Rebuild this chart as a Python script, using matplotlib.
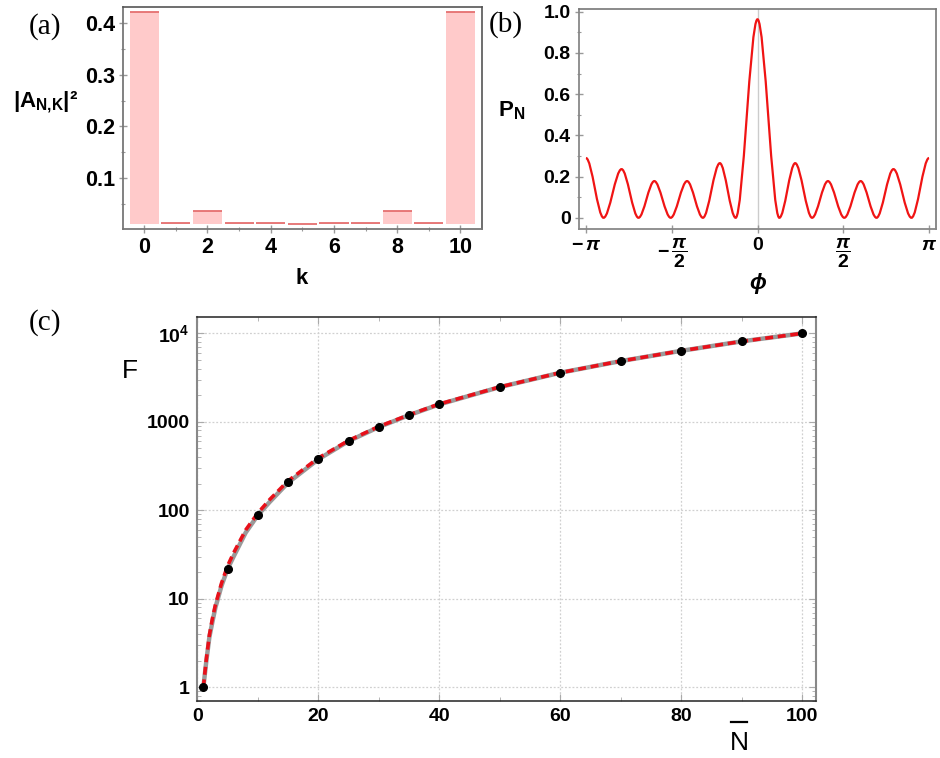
import numpy as np
import matplotlib
matplotlib.use("Agg")
import matplotlib.pyplot as plt
from matplotlib.path import Path
from matplotlib.patches import PathPatch
from matplotlib.ticker import FixedLocator, MultipleLocator, LogLocator, NullFormatter
from matplotlib.lines import Line2D

plt.rcParams['font.family'] = ['Liberation Sans', 'DejaVu Sans']
plt.rcParams['mathtext.fontset'] = 'custom'
plt.rcParams['mathtext.rm'] = 'Liberation Sans:bold'
plt.rcParams['mathtext.it'] = 'Liberation Sans:italic:bold'
plt.rcParams['mathtext.bf'] = 'Liberation Sans:bold'

# ---------------- data ----------------
# (a) amplitude distribution
k_vals = list(range(11))
amp_sq = [0.420, 0.0134, 0.037, 0.0139, 0.0139, 0.0122, 0.0140, 0.0140, 0.037, 0.0134, 0.420]
bar_base = 0.0115

# (b) P_N(phi): extrema
phi_ext = [-np.pi, -2.82, -2.49, -2.18, -1.89, -1.59, -1.29, -1.00, -0.69, -0.40, 0.0,
           0.40, 0.69, 1.00, 1.29, 1.59, 1.89, 2.18, 2.49, 2.82, np.pi]
P_ext = [0.290, 0.0, 0.236, 0.0, 0.178, 0.0, 0.178, 0.0, 0.265, 0.0, 0.963,
         0.0, 0.265, 0.0, 0.178, 0.0, 0.178, 0.0, 0.236, 0.0, 0.290]

# (c) Fisher information vs mean N
N_pts = [1, 5, 10, 15, 20, 25, 30, 35, 40, 50, 60, 70, 80, 90, 100]
F_pts = [1, 21.7, 88, 207, 378, 605, 873, 1195, 1575, 2475, 3590, 4865, 6350, 8120, 10000]

N_gray = [1, 1.5, 2, 2.5, 3, 4, 5, 6, 8, 10, 12, 15, 20, 25, 30, 35, 40, 50, 60, 70, 80, 90, 100]
F_gray = [1, 2.0, 3.7, 5.5, 8.0, 14, 21.7, 30, 56, 88, 125, 205, 377, 605, 873, 1190, 1575,
          2470, 3590, 4860, 6350, 8120, 10000]
N_red = [1, 1.5, 2, 2.5, 3, 4, 5, 6, 8, 10, 12, 15, 20, 25, 30, 35, 40, 50, 60, 70, 80, 90, 100]
F_red = [1, 2.1, 3.9, 6.0, 8.6, 15, 23.5, 33, 60, 93, 133, 215, 390, 615, 885, 1200, 1590,
         2480, 3595, 4865, 6355, 8120, 10000]

# ---------------- figure ----------------
W, H = 940, 758
fig = plt.figure(figsize=(W / 100, H / 100), dpi=100)

def ax_rect(l, t, r, b):
    return [l / W, 1 - b / H, (r - l) / W, (b - t) / H]

def ftext(x, y, s, **kw):
    fig.text(x / W, 1 - y / H, s, ha='center', va='center', **kw)

# ---- (a) ----
axa = fig.add_axes(ax_rect(123.3, 7.3, 482.3, 229))
heights = [v - bar_base for v in amp_sq]
axa.bar(k_vals, heights, bottom=bar_base, width=0.92, color='#ffcaca', edgecolor='none', zorder=2)
axa.hlines(amp_sq, [k - 0.46 for k in k_vals], [k + 0.46 for k in k_vals],
           color='#e57070', lw=1.3, zorder=3)
axa.set_xlim(-0.66, 10.69)
axa.set_ylim(0.0023, 0.4297)
axa.set_xticks([0, 2, 4, 6, 8, 10])
axa.xaxis.set_minor_locator(FixedLocator([1, 3, 5, 7, 9]))
axa.set_yticks([0.1, 0.2, 0.3, 0.4])
axa.set_yticklabels(['0.1', '0.2', '0.3', '0.4'])
axa.yaxis.set_minor_locator(FixedLocator([0.05, 0.15, 0.25, 0.35]))
axa.tick_params(axis='both', which='major', direction='inout', length=6, width=1, color='#999999',
                labelsize=15.5, pad=3)
axa.tick_params(axis='both', which='minor', direction='inout', length=3.5, width=0.8, color='#999999')
for lab in axa.get_xticklabels() + axa.get_yticklabels():
    lab.set_fontweight('bold')
for sp in ['left', 'bottom']:
    axa.spines[sp].set_color('#777777'); axa.spines[sp].set_linewidth(1.3)
for sp in ['top', 'right']:
    axa.spines[sp].set_color('#555555'); axa.spines[sp].set_linewidth(1.2)

ftext(45, 27, '(a)', family='Liberation Serif', fontsize=21)
ftext(46, 102, r'$|\mathrm{A}_{\mathrm{N{,}K}}|$²', fontsize=16, fontweight='bold')
ftext(302, 279, 'k', fontsize=16, fontweight='bold')

# ---- (b) ----
axb = fig.add_axes(ax_rect(579, 9, 936, 228.7))
verts = [(phi_ext[0], P_ext[0])]
codes = [Path.MOVETO]
for i in range(1, len(phi_ext)):
    x0, y0 = phi_ext[i - 1], P_ext[i - 1]
    x1, y1 = phi_ext[i], P_ext[i]
    dx = x1 - x0
    verts += [(x0 + dx / 3, y0), (x1 - dx / 3, y1), (x1, y1)]
    codes += [Path.CURVE4] * 3
axb.add_patch(PathPatch(Path(verts, codes), fill=False, edgecolor='#f01414', lw=1.6, zorder=3))
axb.axvline(0, color='#cccccc', lw=1, zorder=1)
axb.set_xlim(-np.pi - 0.128, np.pi + 0.128)
axb.set_ylim(-0.053, 1.013)
axb.set_xticks([-np.pi, -np.pi / 2, 0, np.pi / 2, np.pi])
axb.set_xticklabels([r'$-\,\pi$', r'$-\,\dfrac{\pi}{2}$', r'$0$', r'$\dfrac{\pi}{2}$', r'$\pi$'])
axb.set_yticks([0, 0.2, 0.4, 0.6, 0.8, 1.0])
axb.set_yticklabels(['0', '0.2', '0.4', '0.6', '0.8', '1.0'])
axb.yaxis.set_minor_locator(FixedLocator([0.1, 0.3, 0.5, 0.7, 0.9]))
axb.tick_params(axis='both', which='major', direction='inout', length=6, width=1, color='#999999',
                labelsize=14, pad=3)
axb.tick_params(axis='both', which='minor', direction='inout', length=3.5, width=0.8, color='#999999')
for lab in axb.get_xticklabels() + axb.get_yticklabels():
    lab.set_fontweight('bold')
for lab in axb.get_xticklabels():
    lab.set_verticalalignment('top')
for sp in ['left', 'bottom']:
    axb.spines[sp].set_color('#888888'); axb.spines[sp].set_linewidth(1.3)
for sp in ['top', 'right']:
    axb.spines[sp].set_color('#777777'); axb.spines[sp].set_linewidth(1.2)

ftext(506, 25, '(b)', family='Liberation Serif', fontsize=21)
ftext(512, 111, r'$\mathrm{P}_{\mathrm{N}}$', fontsize=16)
ftext(758, 283, 'ϕ', fontsize=16, fontweight='bold', style='italic',
      family=['Liberation Sans', 'DejaVu Sans'])

# ---- (c) ----
axc = fig.add_axes(ax_rect(196.7, 317.3, 816, 701))
axc.set_yscale('log')
axc.plot(N_gray, F_gray, color='#9a9a9a', lw=3.2, solid_capstyle='round', zorder=2)
axc.plot(N_red, F_red, color='#e8101a', lw=2.6, dashes=(2.2, 1.3), zorder=3)
axc.plot(N_pts, F_pts, 'o', color='black', ms=5.5, zorder=4)
axc.set_xlim(-0.1, 102.3)
axc.set_ylim(0.70, 15200)
axc.set_xticks([0, 20, 40, 60, 80, 100])
axc.xaxis.set_minor_locator(FixedLocator([10, 30, 50, 70, 90]))
axc.set_yticks([1, 10, 100, 1000, 10000])
axc.set_yticklabels(['1', '10', '100', '1000', r'$\mathbf{10^{4}}$'])
axc.yaxis.set_minor_locator(LogLocator(base=10, subs=np.arange(2, 10)))
axc.yaxis.set_minor_formatter(NullFormatter())
axc.grid(True, which='major', color='#d0d0d0', lw=0.9, ls=(0, (1.5, 1.5)), zorder=0)
axc.tick_params(axis='both', which='major', direction='in', length=5, width=0.8, color='#aaaaaa',
                labelsize=14, pad=5, top=True, right=True)
axc.tick_params(axis='both', which='minor', direction='in', length=3, width=0.6, color='#aaaaaa',
                top=True, right=True)
for lab in axc.get_xticklabels() + axc.get_yticklabels():
    lab.set_fontweight('bold')
for sp in ['left', 'right']:
    axc.spines[sp].set_color('#888888'); axc.spines[sp].set_linewidth(1.5)
for sp in ['top', 'bottom']:
    axc.spines[sp].set_color('#222222'); axc.spines[sp].set_linewidth(1.1)

ftext(45, 323, '(c)', family='Liberation Serif', fontsize=21)
ftext(130, 371, 'F', fontsize=19)
ftext(739, 743, 'N', fontsize=19)
fig.add_artist(Line2D([731 / W, 747 / W], [1 - 721.5 / H, 1 - 721.5 / H], color='black', lw=1.6))

fig.savefig('out.png', dpi=100)
